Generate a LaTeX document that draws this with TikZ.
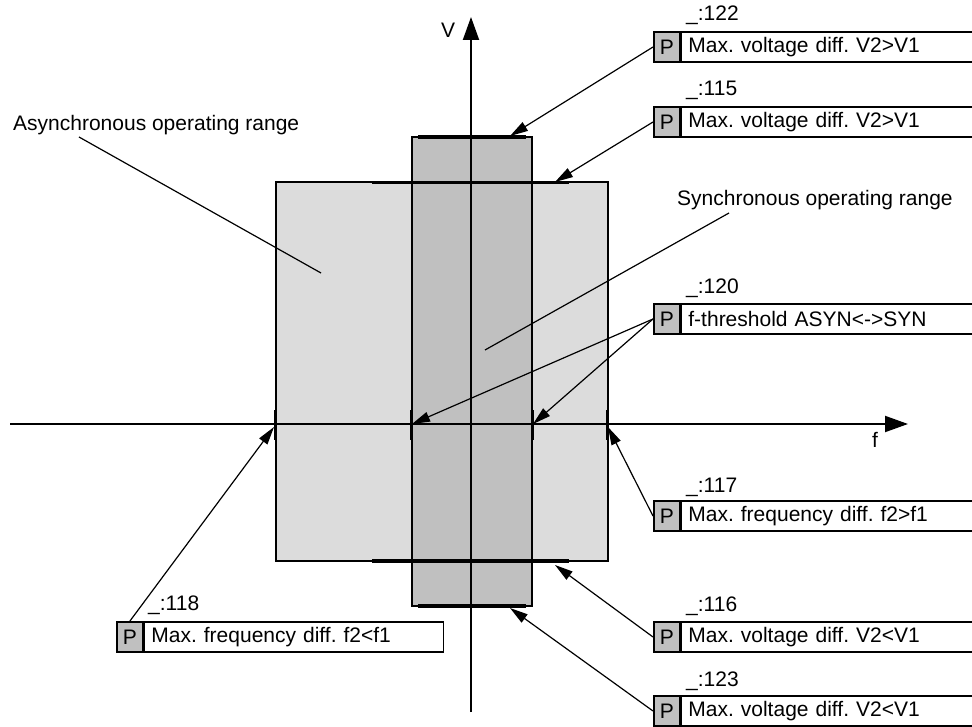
\documentclass[tikz,border=0pt]{standalone}
\usepackage{fontspec}
\setmainfont{Liberation Sans}
\usetikzlibrary{arrows.meta}
\definecolor{lightg}{HTML}{DCDCDC}
\definecolor{darkg}{HTML}{C0C0C0}
\frenchspacing
\begin{document}
\begin{tikzpicture}[x=1pt,y=-1pt, font=\fontsize{21}{25}\selectfont,
 pcell/.style={draw, line width=1.6pt, fill=darkg, minimum width=26pt, minimum height=30pt, inner sep=0pt, anchor=west},
 tcell/.style={draw, line width=1.6pt, fill=white, minimum height=30pt, inner xsep=7pt, inner ysep=0pt, align=left, anchor=west},
 lbl/.style={anchor=west, inner sep=0pt},
 arr/.style={-{Triangle[length=18pt,width=10pt]}, line width=1.2pt},
 leader/.style={line width=1.2pt},
 axis/.style={line width=2pt, -{Triangle[length=23pt,width=16pt]}},
 rim/.style={line width=3.5pt},
 tick/.style={line width=3pt},
 region/.style={draw, line width=2pt}]
\useasboundingbox (0,0) rectangle (972,727);

% ranges
\fill[lightg] (275.5,182.5) rectangle (607.5,561);
\draw[region] (275.5,182.5) rectangle (607.5,561);
\fill[darkg] (411.5,137) rectangle (532,606);
\draw[region] (411.5,137) rectangle (532,606);

% axes
\coordinate (fs) at (10,424);
\coordinate (fe) at (908,424);
\coordinate (vs) at (471,712);
\coordinate (ve) at (471,17);
\draw[axis] (fs) -- (fe);
\draw[axis] (vs) -- (ve);
\node (vlab) at (448,30) {V};
\node (flab) at (875,440) {f};

% rim lines
\draw[rim] (372,182.5) -- (569,182.5);
\draw[rim] (372,561) -- (569,561);
\draw[rim] (418,137) -- (526,137);
\draw[rim] (418,606) -- (526,606);

% ticks
\draw[tick] (275.5,410) -- (275.5,440);
\draw[tick] (411.5,410) -- (411.5,440);
\draw[tick] (532,410) -- (532,440);
\draw[tick] (607.5,410) -- (607.5,440);

% range labels
\node[lbl] (async) at (13,125) {Asynchronous operating range};
\node[lbl] (sync) at (677,200) {Synchronous operating range};
\coordinate (asyncA) at (79,137);
\coordinate (asyncB) at (321,273);
\coordinate (syncA) at (729,213);
\coordinate (syncB) at (485,350);
\draw[leader] (asyncA) -- (asyncB);
\draw[leader] (syncA) -- (syncB);

% parameter boxes
\node[pcell] (p122) at (653,47) {P};
\node[tcell, text width=277pt] (t122) at (p122.east) {Max. voltage diff. V2>V1};
\node[lbl] (l122) at (686,15) {\_:122};

\node[pcell] (p115) at (653,122) {P};
\node[tcell, text width=277pt] (t115) at (p115.east) {Max. voltage diff. V2>V1};
\node[lbl] (l115) at (686,90) {\_:115};

\node[pcell] (p120) at (653,319) {P};
\node[tcell, text width=277pt] (t120) at (p120.east) {f-threshold ASYN<->SYN};
\node[lbl] (l120) at (686,288) {\_:120};

\node[pcell] (p117) at (653,516) {P};
\node[tcell, text width=277pt] (t117) at (p117.east) {Max. frequency diff. f2>f1};
\node[lbl] (l117) at (686,487) {\_:117};

\node[pcell] (p116) at (653,637) {P};
\node[tcell, text width=277pt] (t116) at (p116.east) {Max. voltage diff. V2<V1};
\node[lbl] (l116) at (686,606) {\_:116};

\node[pcell] (p123) at (653,711) {P};
\node[tcell, text width=277pt] (t123) at (p123.east) {Max. voltage diff. V2<V1};
\node[lbl] (l123) at (686,681) {\_:123};

\node[pcell] (p118) at (116,637) {P};
\node[tcell, text width=285pt] (t118) at (p118.east) {Max. frequency diff. f2<f1};
\node[lbl] (l118) at (148,605) {\_:118};

% arrow targets
\coordinate (a122) at (510,136);
\coordinate (a115) at (555,182);
\coordinate (a120l) at (412,424);
\coordinate (a120r) at (533,424);
\coordinate (a117) at (608,427);
\coordinate (a118) at (274,427);
\coordinate (a116) at (555,565);
\coordinate (a123) at (510,608);

\draw[arr] (p122.west) -- (a122);
\draw[arr] (p115.west) -- (a115);
\draw[arr] (p120.west) -- (a120l);
\draw[arr] (p120.west) -- (a120r);
\draw[arr] (p117.west) -- (a117);
\draw[arr] (p118.north) -- (a118);
\draw[arr] (p116.west) -- (a116);
\draw[arr] (p123.west) -- (a123);
\end{tikzpicture}
\end{document}
